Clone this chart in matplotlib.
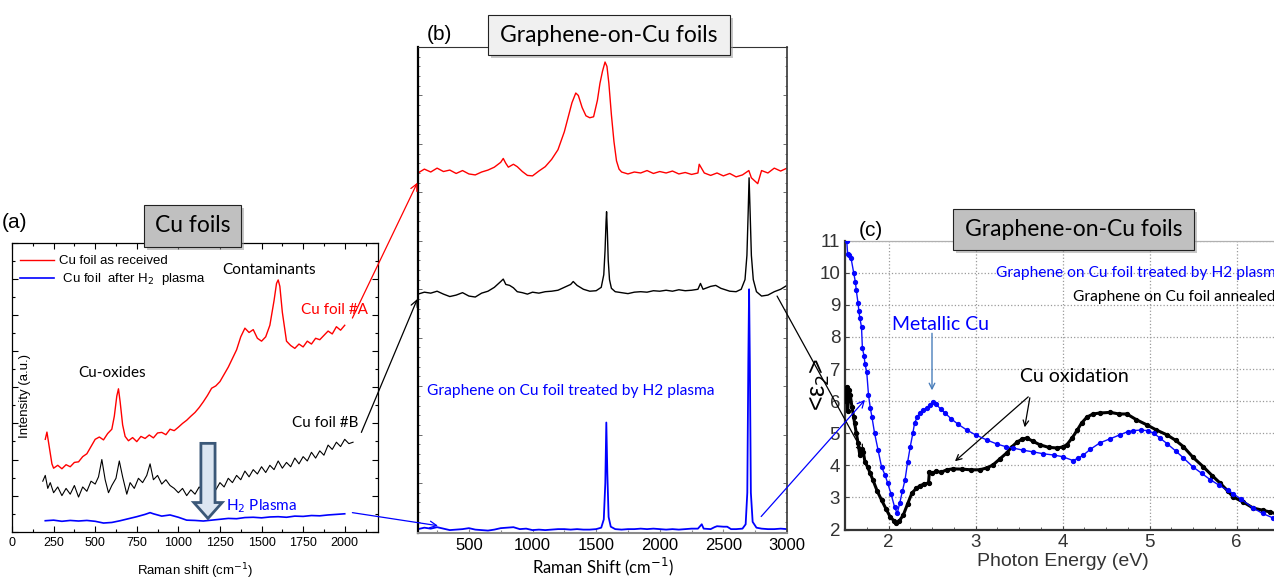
import matplotlib
matplotlib.use('Agg')
import matplotlib.pyplot as plt
from matplotlib.patches import Rectangle, FancyArrow, ConnectionPatch
from matplotlib.ticker import MultipleLocator, NullFormatter

# ---- panel (a): Cu foils, Raman ----
a_red_x = [200, 210, 225, 240, 250, 275, 300, 325, 350, 375, 400, 425, 450, 475, 500, 525, 550, 575,
           600, 615, 630, 640, 650, 665, 680, 700, 725, 750, 775, 800, 825, 850, 875, 900, 925, 950,
           975, 1000, 1025, 1050, 1075, 1100, 1125, 1150, 1175, 1200, 1225, 1250, 1275, 1300, 1325,
           1350, 1375, 1400, 1425, 1450, 1475, 1500, 1525, 1550, 1575, 1590, 1600, 1610, 1625, 1650,
           1675, 1700, 1725, 1750, 1775, 1800, 1825, 1850, 1875, 1900, 1925, 1950, 1975, 2000]
a_red_y = [32.0, 34.5, 29.0, 23.5, 22.0, 23.0, 21.8, 23.2, 22.5, 24.0, 24.2, 26.0, 27.0, 29.5, 32.0,
           32.8, 31.8, 34.0, 35.5, 40.0, 47.0, 49.5, 45.0, 37.0, 33.0, 31.5, 32.6, 31.2, 33.0, 32.3,
           33.5, 32.5, 34.2, 34.4, 33.6, 35.5, 35.0, 36.2, 37.5, 38.6, 40.0, 41.3, 43.0, 45.0, 47.2,
           49.7, 50.5, 52.0, 54.5, 57.0, 60.0, 63.0, 67.5, 70.5, 69.0, 70.0, 67.0, 66.0, 67.5, 71.5,
           80.0, 86.0, 87.2, 85.0, 76.0, 66.0, 64.5, 63.5, 65.0, 64.0, 66.0, 65.0, 67.0, 66.5, 68.0,
           69.5, 68.5, 71.0, 69.8, 71.5]

a_blk_x = [185, 200, 215, 230, 250, 275, 300, 325, 350, 375, 400, 425, 450, 475, 500, 520, 540, 560,
           580, 600, 625, 645, 665, 690, 710, 735, 760, 785, 810, 830, 850, 875, 900, 925, 950, 975,
           1000, 1025, 1050, 1075, 1100, 1125, 1150, 1175, 1200, 1225, 1250, 1275, 1300, 1325, 1350,
           1375, 1400, 1425, 1450, 1475, 1500, 1525, 1550, 1575, 1600, 1625, 1650, 1675, 1700, 1725,
           1750, 1775, 1800, 1825, 1850, 1875, 1900, 1925, 1950, 1975, 2000, 2025, 2050]
a_blk_y = [17.5, 19.5, 15.0, 17.0, 13.5, 15.5, 12.5, 15.0, 13.0, 16.0, 12.0, 15.5, 14.0, 17.5, 16.5,
           19.0, 25.0, 18.0, 13.5, 16.0, 18.5, 24.5, 19.0, 13.0, 17.0, 15.0, 18.5, 17.0, 19.5, 23.5,
           18.0, 19.5, 16.5, 18.0, 16.0, 15.0, 13.5, 15.0, 12.5, 14.5, 13.0, 15.5, 14.0, 13.0, 16.0,
           14.5, 17.0, 15.5, 18.5, 17.0, 19.5, 18.0, 21.0, 19.0, 21.5, 20.0, 22.5, 20.5, 23.0, 21.5,
           24.5, 22.0, 24.0, 22.5, 25.5, 23.5, 26.0, 24.5, 27.5, 25.5, 28.0, 26.5, 30.0, 28.5, 31.0,
           29.5, 32.0, 30.5, 31.0]

a_blu_x = [200, 250, 300, 350, 400, 450, 500, 550, 600, 650, 700, 750, 800, 830, 850, 900, 950, 1000,
           1050, 1100, 1150, 1200, 1250, 1300, 1350, 1400, 1450, 1500, 1550, 1600, 1650, 1700, 1750,
           1800, 1850, 1900, 1950, 2000]
a_blu_y = [3.8, 4.0, 3.6, 3.9, 3.7, 3.9, 3.6, 3.0, 3.2, 3.8, 4.5, 5.2, 6.0, 6.6, 6.2, 5.4, 5.8, 5.0,
           4.0, 3.9, 3.7, 4.0, 4.3, 4.6, 4.5, 4.9, 5.0, 4.8, 5.1, 5.2, 5.0, 5.4, 5.3, 5.6, 5.5, 5.8,
           6.0, 6.2]
a_xticks = [0, 250, 500, 750, 1000, 1250, 1500, 1750, 2000]

# ---- panel (b): graphene on Cu, Raman ----
b_red_x = [100, 150, 200, 250, 300, 350, 400, 450, 500, 550, 600, 650, 700, 750, 770, 790, 810, 850,
           880, 920, 960, 1000, 1050, 1100, 1150, 1200, 1250, 1280, 1310, 1340, 1360, 1390, 1420, 1450,
           1480, 1510, 1530, 1550, 1570, 1585, 1600, 1620, 1640, 1660, 1680, 1700, 1750, 1800, 1850,
           1900, 1950, 2000, 2050, 2100, 2150, 2200, 2250, 2300, 2310, 2350, 2400, 2450, 2500, 2550,
           2600, 2650, 2700, 2720, 2770, 2800, 2850, 2900, 2950, 3000]
b_red_y = [74.0, 74.8, 74.2, 75.0, 74.3, 74.6, 73.9, 74.5, 73.8, 73.6, 74.2, 74.6, 75.2, 76.2, 77.0,
           76.0, 75.2, 75.8, 75.3, 74.3, 73.5, 73.4, 74.4, 75.3, 76.8, 78.8, 82.5, 85.5, 88.5, 90.5,
           90.0, 87.5, 85.8, 85.4, 85.6, 89.0, 92.5, 95.0, 96.9, 96.0, 92.5, 86.0, 80.5, 76.5, 74.8,
           74.2, 73.8, 74.2, 74.0, 74.5, 73.9, 74.3, 74.0, 74.4, 73.8, 74.1, 73.7, 74.0, 75.8, 74.0,
           73.5, 74.0, 73.4, 73.9, 73.2, 73.6, 74.5, 73.0, 71.8, 74.5, 74.0, 75.0, 74.4, 75.0]

b_blk_x = [100, 150, 200, 250, 300, 350, 400, 450, 500, 550, 600, 650, 700, 750, 770, 790, 820, 850,
           880, 920, 960, 1000, 1050, 1100, 1150, 1200, 1250, 1300, 1320, 1350, 1400, 1450, 1500, 1540,
           1560, 1570, 1578, 1582, 1588, 1595, 1605, 1620, 1650, 1700, 1750, 1800, 1850, 1900, 1950,
           2000, 2050, 2100, 2150, 2200, 2250, 2300, 2320, 2340, 2400, 2440, 2480, 2550, 2600, 2640,
           2670, 2685, 2695, 2702, 2710, 2720, 2735, 2760, 2800, 2850, 2900, 2950, 3000]
b_blk_y = [49.0, 49.4, 49.2, 49.6, 49.0, 48.5, 48.8, 49.3, 48.6, 48.4, 49.2, 49.6, 50.4, 51.6, 52.1,
           51.0, 50.8, 50.3, 49.5, 49.3, 49.0, 49.4, 49.2, 49.5, 49.6, 49.8, 50.4, 51.0, 51.6, 50.8,
           50.0, 49.6, 49.7, 50.4, 53.0, 58.0, 64.0, 66.0, 62.0, 56.0, 52.0, 50.2, 49.5, 49.3, 49.1,
           49.4, 49.5, 49.4, 49.7, 49.6, 49.8, 49.6, 49.9, 49.7, 49.8, 50.0, 51.2, 50.0, 50.6, 50.8,
           50.2, 49.6, 49.5, 50.0, 52.0, 57.0, 66.0, 73.0, 66.0, 57.0, 52.0, 49.5, 48.6, 48.8, 49.5,
           50.0, 50.8]

b_blu_x = [100, 150, 200, 250, 300, 350, 400, 450, 500, 550, 600, 650, 700, 750, 800, 850, 900, 950,
           1000, 1050, 1100, 1150, 1200, 1250, 1300, 1350, 1400, 1450, 1500, 1540, 1560, 1572, 1580,
           1588, 1598, 1615, 1650, 1700, 1750, 1800, 1850, 1900, 1950, 2000, 2050, 2100, 2150, 2200,
           2250, 2300, 2320, 2330, 2345, 2400, 2430, 2450, 2500, 2530, 2560, 2600, 2650, 2675, 2688,
           2696, 2702, 2708, 2716, 2730, 2760, 2800, 2850, 2900, 2950, 3000]
b_blu_y = [0.5, 0.8, 0.6, 0.9, 0.6, 0.3, 0.4, 0.5, 0.7, 0.4, 0.3, 0.2, 0.4, 0.7, 0.8, 0.9, 0.5, 0.6,
           0.3, 0.4, 0.3, 0.4, 0.5, 0.5, 0.4, 0.5, 0.4, 0.4, 0.5, 0.8, 2.5, 10.0, 22.5, 12.0, 3.0,
           1.0, 0.5, 0.4, 0.5, 0.5, 0.6, 0.5, 0.6, 0.5, 0.4, 0.5, 0.4, 0.5, 0.6, 0.6, 1.2, 1.5, 0.6,
           0.5, 0.9, 1.1, 1.0, 1.0, 0.5, 0.5, 0.6, 1.5, 8.0, 35.0, 50.0, 35.0, 8.0, 2.0, 0.8, 0.6,
           0.5, 0.5, 0.6, 0.5]
b_xticks = [500, 1000, 1500, 2000, 2500, 3000]

# ---- panel (c): ellipsometry <eps2> ----
c_blu_x = [1.50, 1.52, 1.53, 1.55, 1.57, 1.60, 1.62, 1.63, 1.65, 1.66, 1.67, 1.69, 1.70, 1.72, 1.73,
           1.75, 1.77, 1.79, 1.81, 1.84, 1.88, 1.92, 1.96, 1.99, 2.03, 2.07, 2.10, 2.13, 2.16, 2.19,
           2.22, 2.25, 2.28, 2.30, 2.33, 2.36, 2.40, 2.44, 2.48, 2.51, 2.55, 2.60, 2.65, 2.72, 2.80,
           2.90, 3.00, 3.13, 3.25, 3.35, 3.43, 3.55, 3.66, 3.78, 3.90, 4.00, 4.12, 4.18, 4.24, 4.32,
           4.43, 4.55, 4.66, 4.75, 4.81, 4.90, 4.98, 5.05, 5.12, 5.20, 5.30, 5.39, 5.50, 5.60, 5.70,
           5.80, 5.90, 5.96, 6.05, 6.19, 6.30, 6.42, 6.50]
c_blu_y = [11.2, 11.0, 10.6, 10.55, 10.45, 10.0, 9.7, 9.45, 9.05, 8.8, 8.6, 8.3, 7.65, 7.4, 7.15,
           6.9, 6.2, 5.8, 5.5, 5.0, 4.48, 3.95, 3.7, 3.45, 3.1, 2.7, 2.5, 2.83, 3.2, 3.55, 4.1, 4.58,
           5.0, 5.32, 5.5, 5.63, 5.72, 5.79, 5.88, 5.98, 5.9, 5.75, 5.63, 5.45, 5.28, 5.1, 4.95, 4.79,
           4.66, 4.58, 4.54, 4.47, 4.42, 4.36, 4.32, 4.27, 4.15, 4.22, 4.32, 4.5, 4.7, 4.83, 4.95,
           5.05, 5.08, 5.1, 5.08, 5.0, 4.85, 4.68, 4.45, 4.23, 3.95, 3.75, 3.55, 3.38, 3.22, 3.12,
           2.95, 2.67, 2.5, 2.36, 2.28]

c_blk_x = [1.50, 1.51, 1.52, 1.53, 1.55, 1.56, 1.58, 1.60, 1.61, 1.63, 1.65, 1.67, 1.69, 1.71, 1.73,
           1.76, 1.79, 1.82, 1.87, 1.92, 1.97, 2.02, 2.06, 2.09, 2.12, 2.17, 2.22, 2.27, 2.32, 2.36,
           2.41, 2.46, 2.47, 2.50, 2.55, 2.60, 2.67, 2.74, 2.85, 2.95, 3.05, 3.13, 3.20, 3.28, 3.36,
           3.42, 3.48, 3.54, 3.59, 3.66, 3.74, 3.84, 3.94, 4.00, 4.05, 4.11, 4.17, 4.22, 4.28, 4.35,
           4.43, 4.55, 4.65, 4.74, 4.85, 4.97, 5.08, 5.20, 5.30, 5.39, 5.50, 5.62, 5.72, 5.81, 5.90,
           5.96, 6.08, 6.19, 6.30, 6.38, 6.50]
c_blk_y = [6.3, 6.0, 6.45, 5.7, 6.35, 6.2, 5.82, 5.5, 5.32, 5.0, 4.7, 4.32, 4.5, 4.42, 4.1, 3.95,
           3.75, 3.55, 3.2, 2.92, 2.65, 2.39, 2.28, 2.2, 2.25, 2.45, 2.8, 3.14, 3.28, 3.36, 3.42, 3.45,
           3.8, 3.75, 3.82, 3.78, 3.86, 3.89, 3.88, 3.86, 3.86, 3.92, 4.01, 4.2, 4.39, 4.58, 4.73,
           4.82, 4.85, 4.75, 4.64, 4.56, 4.54, 4.57, 4.64, 4.85, 5.1, 5.32, 5.5, 5.6, 5.63, 5.65, 5.6,
           5.6, 5.42, 5.26, 5.1, 4.95, 4.78, 4.58, 4.25, 3.95, 3.68, 3.45, 3.2, 3.02, 2.85, 2.67, 2.6,
           2.55, 2.45]
c_xticks = [2, 3, 4, 5, 6]
c_yticks = [2, 3, 4, 5, 6, 7, 8, 9, 10, 11]

W, H = 1274, 579
def fx(x): return x / W
def fy(y): return 1 - y / H

ARIAL = 'Liberation Sans'
CAL = 'Lato'

fig = plt.figure(figsize=(W / 100, H / 100), dpi=100)
fig.patch.set_facecolor('white')

# ---------------- (a) ----------------
ax_a = fig.add_axes([fx(12), fy(531.7), fx(378 - 12), (531.7 - 243) / H])
la_r, = ax_a.plot(a_red_x, a_red_y, color='#ff0000', lw=1.0, label='Cu foil as received')
ax_a.plot(a_blk_x, a_blk_y, color='black', lw=0.8)
la_b, = ax_a.plot(a_blu_x, a_blu_y, color='#0000ff', lw=1.2, label=' Cu foil  after H$_2$  plasma')
ax_a.set_xlim(0, 2200)
ax_a.set_ylim(0, 100)
ax_a.set_xticks(a_xticks)
ax_a.xaxis.set_minor_locator(MultipleLocator(125))
ax_a.yaxis.set_major_locator(MultipleLocator(12.5))
ax_a.yaxis.set_minor_locator(MultipleLocator(6.25))
ax_a.yaxis.set_major_formatter(NullFormatter())
ax_a.tick_params(which='both', direction='in', top=True, right=True, labelsize=9, width=0.8)
ax_a.tick_params(which='major', length=4)
ax_a.tick_params(which='minor', length=2)
for lab in ax_a.get_xticklabels():
    lab.set_family(ARIAL)
for s in ax_a.spines.values():
    s.set_linewidth(0.9)
ax_a.set_xlabel('Raman shift (cm$^{-1}$)', fontsize=9.5, family=ARIAL, labelpad=9)
ax_a.text(0.035, 0.47, 'Intensity (a.u.)', transform=ax_a.transAxes, rotation=90,
          ha='center', va='center', fontsize=9.5, family=ARIAL)
ax_a.legend(handles=[la_r, la_b], loc='upper left', bbox_to_anchor=(0.0, 0.985), frameon=False,
            prop={'family': ARIAL, 'size': 9.5}, handlelength=2.6, borderaxespad=0.2,
            labelspacing=0.3, handletextpad=0.4)
ax_a.text(1548, 90.6, 'Contaminants', ha='center', va='center', fontsize=11, family=CAL)
ax_a.text(1938, 76.7, 'Cu foil #A', ha='center', va='center', fontsize=11, family=CAL, color='#ff0000')
ax_a.text(600, 54.9, 'Cu-oxides', ha='center', va='center', fontsize=11, family=CAL)
ax_a.text(1884, 37.8, 'Cu foil #B', ha='center', va='center', fontsize=11, family=CAL)
ax_a.text(1285, 8.7, 'H$_2$ Plasma', ha='left', va='center', fontsize=11, family=CAL, color='#0000ff')
ax_a.add_patch(FancyArrow(1178, 30.6, 0, -26.0, width=85, head_width=170, head_length=5.5,
                          length_includes_head=True, fc='#dce6f2', ec='#3b5878', lw=2, zorder=5))

# ---------------- (b) ----------------
ax_b = fig.add_axes([fx(418), fy(533), fx(787 - 418), (533 - 47) / H])
ax_b.plot(b_red_x, b_red_y, color='#ff0000', lw=1.0)
ax_b.plot(b_blk_x, b_blk_y, color='black', lw=1.0)
ax_b.plot(b_blu_x, b_blu_y, color='#0000ff', lw=1.3)
ax_b.set_xlim(100, 3000)
ax_b.set_ylim(-0.3, 100)
ax_b.set_xticks(b_xticks)
ax_b.xaxis.set_minor_locator(MultipleLocator(250))
ax_b.yaxis.set_major_locator(MultipleLocator(10))
ax_b.yaxis.set_minor_locator(MultipleLocator(2))
ax_b.yaxis.set_major_formatter(NullFormatter())
ax_b.tick_params(axis='y', which='both', direction='in', left=True, right=True, width=0.6,
                 color='#555555')
ax_b.tick_params(axis='y', which='major', length=3)
ax_b.tick_params(axis='y', which='minor', length=1.5)
ax_b.tick_params(axis='x', which='both', direction='in', color='#888888', labelsize=12, width=0.8)
ax_b.tick_params(axis='x', which='major', length=3)
ax_b.tick_params(axis='x', which='minor', length=2)
for lab in ax_b.get_xticklabels():
    lab.set_family(ARIAL)
ax_b.spines['left'].set_linewidth(1.6)
ax_b.spines['right'].set_linewidth(1.3)
ax_b.spines['right'].set_color('#444444')
ax_b.spines['top'].set_linewidth(0.8)
ax_b.spines['top'].set_color('#333333')
ax_b.spines['bottom'].set_linewidth(1.5)
ax_b.spines['bottom'].set_color('#8a8a8a')
ax_b.set_xlabel('Raman Shift (cm$^{-1}$)', fontsize=12, family=CAL, labelpad=2)
ax_b.text(0.025, 0.292, 'Graphene on Cu foil treated by H2 plasma', transform=ax_b.transAxes,
          ha='left', va='center', fontsize=11.2, family=CAL, color='#0000ff')

# ---------------- (c) ----------------
ax_c = fig.add_axes([fx(845), fy(529.5), fx(1280 - 845), (529.5 - 240.7) / H])
ax_c.plot(c_blk_x, c_blk_y, color='black', lw=2.2, marker='o', ms=2.8, zorder=3)
ax_c.plot(c_blu_x, c_blu_y, color='#0000ff', lw=1.0, marker='o', ms=2.8, alpha=0.95, zorder=4)
ax_c.set_xlim(1.5, 6.5)
ax_c.set_ylim(2, 11)
ax_c.set_xticks(c_xticks)
ax_c.set_yticks(c_yticks)
ax_c.xaxis.set_minor_locator(MultipleLocator(0.25))
ax_c.grid(True, which='major', ls=':', color='#9a9a9a', lw=0.9)
ax_c.tick_params(which='both', direction='in', color='#444444', labelsize=13.5, labelcolor='#333333')
ax_c.tick_params(which='major', length=3)
ax_c.tick_params(which='minor', length=2)
for lab in ax_c.get_xticklabels() + ax_c.get_yticklabels():
    lab.set_family(ARIAL)
ax_c.spines['left'].set_linewidth(1.6)
ax_c.spines['left'].set_color('#333333')
ax_c.spines['bottom'].set_linewidth(1.6)
ax_c.spines['bottom'].set_color('#333333')
ax_c.spines['top'].set_color('#b0b0b0')
ax_c.spines['top'].set_linewidth(0.9)
ax_c.spines['right'].set_visible(False)
ax_c.set_xlabel('Photon Energy (eV)', fontsize=14, family=ARIAL, color='#333333', labelpad=1)
fig.text(fx(820), fy(384), '<ε$_2$>', rotation=90, ha='center', va='center', fontsize=18,
         family=ARIAL)
ax_c.text(3.24, 10.0, 'Graphene on Cu foil treated by H2 plasma', ha='left', va='center',
          fontsize=11.2, family=CAL, color='#0000ff')
ax_c.text(4.12, 9.25, 'Graphene on Cu foil annealed', ha='left', va='center',
          fontsize=11.2, family=CAL, color='black')
ax_c.text(2.04, 8.4, 'Metallic Cu', ha='left', va='center', fontsize=14, family=CAL, color='#0000ff')
ax_c.annotate('', xy=(2.5, 6.25), xytext=(2.5, 8.2),
              arrowprops=dict(arrowstyle='->', color='#4a7ebb', lw=1.0))
ax_c.text(4.14, 6.76, 'Cu oxidation', ha='center', va='center', fontsize=14, family=CAL)
ax_c.annotate('', xy=(3.56, 5.1), xytext=(3.63, 6.19),
              arrowprops=dict(arrowstyle='->', color='black', lw=0.9))
ax_c.annotate('', xy=(2.74, 4.07), xytext=(3.63, 6.19),
              arrowprops=dict(arrowstyle='->', color='black', lw=0.9))

# ---------------- connectors between panels ----------------
def connect(axA, pA, axB, pB, color):
    cp = ConnectionPatch(xyA=pA, coordsA=axA.transData, xyB=pB, coordsB=axB.transData,
                         arrowstyle='->', color=color, lw=0.9, mutation_scale=12, zorder=20)
    fig.add_artist(cp)

connect(ax_a, (2046, 74), ax_b, (95, 72), '#ff0000')
connect(ax_a, (2100, 34.4), ax_b, (95, 48), 'black')
connect(ax_a, (2046, 6.6), ax_b, (257, 1.2), '#0000ff')
connect(ax_b, (2922, 48.6), ax_c, (1.71, 4.39), 'black')
connect(ax_b, (2797, 3.1), ax_c, (1.73, 6.04), '#0000ff')

# ---------------- title boxes and panel letters ----------------
def title_box(x0, y0, x1, y1, text, color):
    fig.add_artist(Rectangle((fx(x0 + 3), fy(y1 + 3)), fx(x1 - x0), (y1 - y0) / H,
                             transform=fig.transFigure, facecolor='#9a9a9a', edgecolor='none',
                             alpha=0.55, zorder=30))
    fig.add_artist(Rectangle((fx(x0), fy(y1)), fx(x1 - x0), (y1 - y0) / H,
                             transform=fig.transFigure, facecolor=color, edgecolor='#222222',
                             lw=0.8, zorder=31))
    fig.text(fx((x0 + x1) / 2), fy((y0 + y1) / 2), text, ha='center', va='center',
             fontsize=16.5, family=CAL, zorder=32)

title_box(144, 205, 241, 247, 'Cu foils', '#c0c0c0')
title_box(488, 15, 730, 55, 'Graphene-on-Cu foils', '#f0f0f0')
title_box(953, 209, 1194, 250, 'Graphene-on-Cu foils', '#c0c0c0')

fig.text(fx(2), fy(223), '(a)', ha='left', va='center', fontsize=15, family=ARIAL)
fig.text(fx(427), fy(34), '(b)', ha='left', va='center', fontsize=15, family=ARIAL)
fig.text(fx(859), fy(230), '(c)', ha='left', va='center', fontsize=15, family=ARIAL)

fig.savefig('out.png', dpi=100)
